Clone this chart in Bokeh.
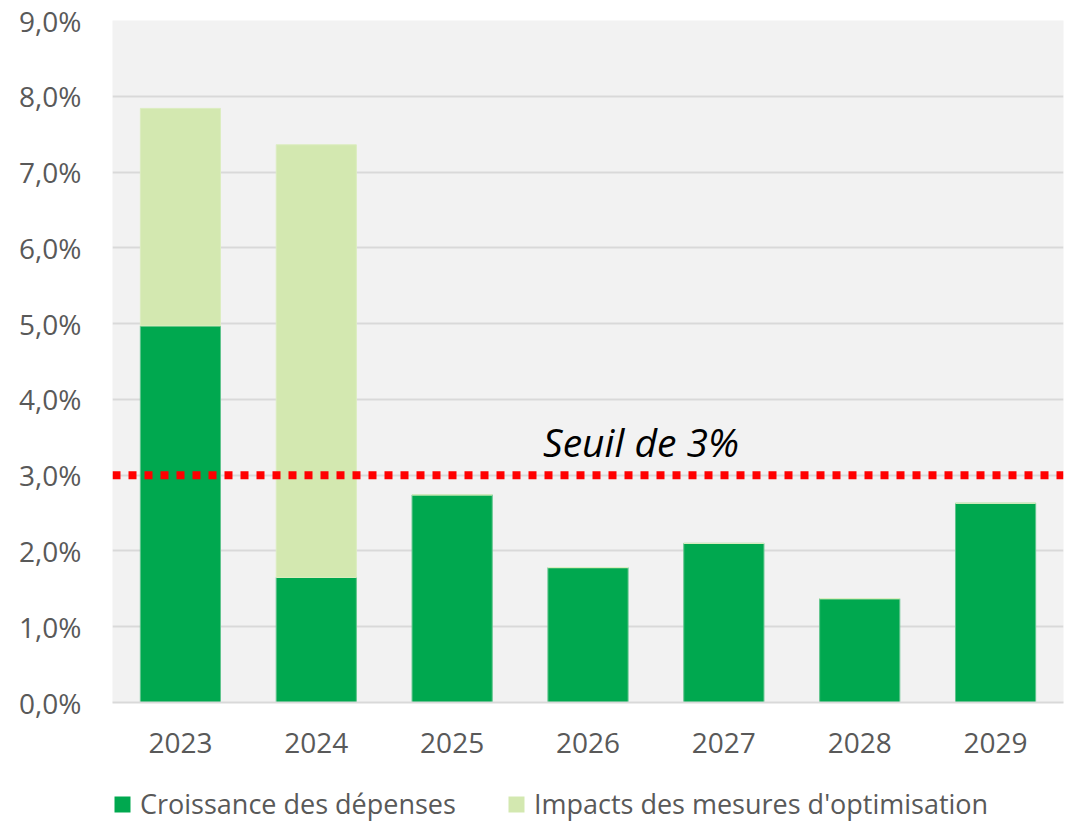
from bokeh.plotting import figure
from bokeh.layouts import column
from bokeh.models import (FactorRange, Range1d, Span, Label, Legend, LegendItem,
                          CustomJSTickFormatter, FixedTicker)
from bokeh.embed import file_html
from bokeh.resources import INLINE

years = ["2023", "2024", "2025", "2026", "2027", "2028", "2029"]
croissance = [4.97, 1.65, 2.74, 1.78, 2.10, 1.37, 2.63]
impacts = [2.87, 5.71, 0.0, 0.0, 0.0, 0.0, 0.0]
seuil = 3.0
y_ticks = [0, 1, 2, 3, 4, 5, 6, 7, 8, 9]
series_names = ["Croissance des dépenses", "Impacts des mesures d'optimisation"]

FONT = "Open Sans"
DARK = "#00a84f"
LIGHT = "#d3e8b0"
TXT = "#595959"

p = figure(x_range=FactorRange(*years), y_range=Range1d(0, 9),
           frame_width=951, frame_height=682, output_backend="svg", toolbar_location=None,
           min_border_left=112, min_border_right=8, min_border_top=20, min_border_bottom=76,
           background_fill_color="#f2f2f2", border_fill_color="white",
           outline_line_color=None)

data = dict(years=years, croissance=croissance, impacts=impacts)
rs = p.vbar_stack(["croissance", "impacts"], x="years", width=0.59, source=data,
                  color=[DARK, LIGHT], line_color=["#5fc48c", "#dcedc0"], line_width=1)

p.xgrid.grid_line_color = None
p.ygrid.grid_line_color = "#d9d9d9"
p.ygrid.grid_line_width = 2
p.yaxis.ticker = FixedTicker(ticks=y_ticks)
p.yaxis.formatter = CustomJSTickFormatter(code="return tick.toFixed(1).replace('.', ',') + '%';")
for ax in (p.xaxis[0], p.yaxis[0]):
    ax.major_label_text_font = FONT
    ax.major_label_text_font_size = "28px"
    ax.major_label_text_color = TXT
    ax.major_tick_line_color = None
    ax.minor_tick_line_color = None
p.yaxis.axis_line_color = None
p.yaxis.major_label_standoff = 25
p.xaxis.axis_line_color = "#d9d9d9"
p.xaxis.axis_line_width = 2
p.xaxis.major_label_standoff = 24

span = Span(location=seuil, dimension="width", line_color="#ff0000",
            line_width=8, line_dash="8 8")
p.add_layout(span)

lbl = Label(x=3.5, y=seuil, x_offset=53, y_offset=7, text="Seuil de 3%", text_align="center",
            text_baseline="bottom", text_font=FONT, text_font_size="39px",
            text_font_style="italic", text_color="black")
p.add_layout(lbl)

# legend strip below the chart (its frame is aligned with the chart's frame)
pl = figure(width=1071, height=44, output_backend="svg", toolbar_location=None,
            x_range=FactorRange(*years), y_range=Range1d(100, 101),
            min_border_left=112, min_border_right=8, min_border_top=0, min_border_bottom=0,
            outline_line_color=None, background_fill_color=None, border_fill_color="white")
pl.axis.visible = False
pl.grid.visible = False
g = pl.vbar_stack(["croissance", "impacts"], x="years", width=0.59, source=data,
                  color=[DARK, LIGHT], line_color=None)
legend = Legend(items=[LegendItem(label=series_names[0], renderers=[g[0]]),
                       LegendItem(label=series_names[1], renderers=[g[1]])],
                orientation="horizontal", location=(0, 0),
                label_text_font=FONT, label_text_font_size="27px", label_text_color=TXT,
                glyph_width=20, glyph_height=20, label_standoff=8, spacing=50,
                padding=0, margin=0, border_line_color=None, background_fill_alpha=0)
pl.add_layout(legend)

layout = column(p, pl, spacing=0)
open("out.html", "w").write(file_html(layout, INLINE))
